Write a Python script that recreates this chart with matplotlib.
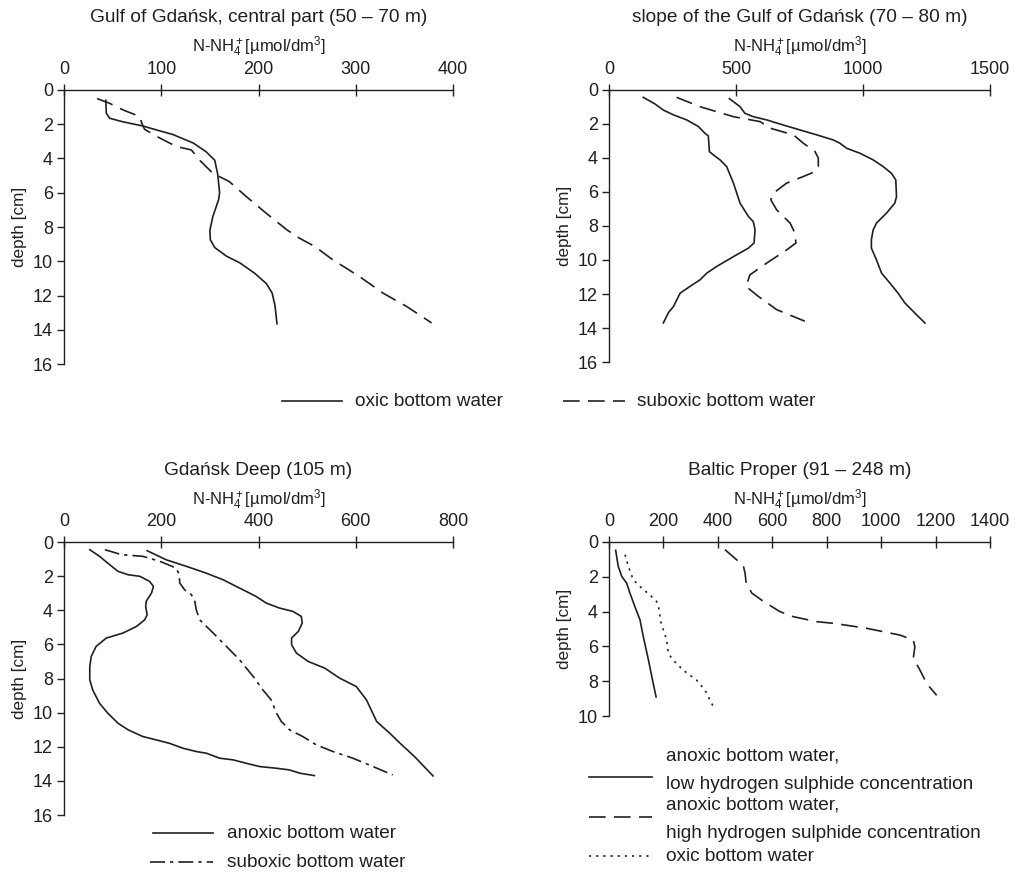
import matplotlib
matplotlib.use("Agg")
import matplotlib.pyplot as plt
from matplotlib.lines import Line2D

plt.rcParams['font.family'] = ['Liberation Sans', 'DejaVu Sans']
plt.rcParams['mathtext.fontset'] = 'custom'
plt.rcParams['mathtext.rm'] = 'Liberation Sans'
plt.rcParams['mathtext.it'] = 'Liberation Sans'
plt.rcParams['mathtext.default'] = 'regular'

INK = '#231f20'
W, H = 1015, 872

# ---- Gulf of Gdańsk, central part ----
gc_oxic_x = [43, 43.5, 47, 60, 81, 95, 112, 133, 146, 155, 158, 160, 159, 153, 150, 150.5, 155, 167, 181, 196, 208, 214, 217, 219]
gc_oxic_d = [0.6, 1.36, 1.65, 1.85, 2.1, 2.33, 2.6, 3.1, 3.6, 4.1, 4.9, 6.0, 6.4, 7.4, 8.2, 8.75, 9.2, 9.7, 10.1, 10.7, 11.3, 11.85, 12.6, 13.65]
gc_subox_x = [34, 47, 61, 78, 79.5, 81, 83, 95, 115.5, 131, 139.5, 153, 170, 187, 208, 229, 242, 258, 276, 304, 328, 352, 378]
gc_subox_d = [0.5, 0.78, 1.17, 1.55, 1.85, 2.08, 2.3, 2.7, 3.3, 3.5, 4.1, 4.86, 5.35, 6.2, 7.2, 8.16, 8.65, 9.14, 9.9, 10.9, 11.86, 12.63, 13.6]

# ---- slope of the Gulf of Gdańsk ----
sl_oxic1_x = [135, 181, 214, 255, 306, 352, 378, 391, 394, 395, 411, 437, 463, 490, 516, 549, 568, 575, 571, 549, 490, 424, 385, 359, 319, 280, 254, 234, 214]
sl_oxic1_d = [0.43, 0.82, 1.18, 1.47, 1.76, 2.15, 2.55, 2.7, 3.33, 3.62, 3.82, 4.11, 4.5, 5.48, 6.66, 7.44, 7.74, 8.23, 9.0, 9.3, 9.8, 10.38, 10.77, 11.16, 11.55, 11.95, 12.73, 13.1, 13.7]
sl_oxic2_x = [474, 516, 535, 568, 621, 686, 752, 818, 883, 909, 936, 988, 1040, 1079, 1112, 1129, 1132, 1125, 1092, 1053, 1040, 1033, 1033, 1053, 1073, 1106, 1138, 1165, 1204, 1244]
sl_oxic2_d = [0.51, 0.98, 1.37, 1.57, 1.76, 2.06, 2.35, 2.64, 2.94, 3.13, 3.43, 3.72, 4.11, 4.5, 4.9, 5.29, 6.27, 6.66, 7.25, 7.83, 8.23, 8.81, 9.3, 9.99, 10.77, 11.36, 11.95, 12.53, 13.12, 13.71]
sl_subox_x = [266, 358, 490, 595, 635, 726, 765, 811, 824, 824, 811, 765, 699, 647, 637, 660, 713, 732, 736, 700, 621, 555, 539, 588, 660, 771]
sl_subox_d = [0.43, 0.98, 1.57, 1.86, 2.25, 2.64, 3.13, 3.62, 4.0, 4.5, 4.8, 5.09, 5.48, 6.07, 6.46, 7.05, 7.83, 8.42, 9.0, 9.4, 10.18, 10.87, 11.55, 12.14, 12.92, 13.6]

# ---- Gdańsk Deep ----
gd_anox1_x = [53, 73, 94, 111, 132, 156, 176, 184, 180, 169, 168, 171, 166, 149, 121, 87, 66, 56, 53, 53, 59, 73, 90, 111, 132, 162, 190, 217, 245, 272, 293, 320, 348, 375, 402, 437, 464, 485, 515]
gd_anox1_d = [0.45, 0.84, 1.33, 1.72, 1.92, 2.01, 2.31, 2.6, 2.99, 3.48, 3.78, 4.26, 4.56, 4.95, 5.34, 5.63, 6.12, 6.71, 7.3, 8.08, 8.67, 9.45, 10.03, 10.62, 11.01, 11.4, 11.6, 11.8, 12.09, 12.28, 12.38, 12.67, 12.77, 12.97, 13.16, 13.26, 13.36, 13.55, 13.69]
gd_anox2_x = [171, 210, 252, 292, 327, 361, 395, 416, 443, 471, 488, 490, 482, 468, 468, 478, 502, 536, 567, 601, 622, 643, 670, 691, 721, 759]
gd_anox2_d = [0.51, 1.04, 1.43, 1.82, 2.21, 2.7, 3.19, 3.58, 3.87, 4.07, 4.36, 4.75, 5.24, 5.63, 6.02, 6.51, 7.0, 7.39, 7.98, 8.47, 9.25, 10.52, 11.21, 11.79, 12.58, 13.71]
gd_subox_x = [84, 118, 162, 197, 231, 237, 238, 248, 262, 269, 272, 279, 307, 334, 361, 389, 409, 426, 437, 447, 464, 491, 519, 553, 594, 628, 676]
gd_subox_d = [0.45, 0.74, 0.84, 1.13, 1.53, 1.92, 2.4, 2.8, 3.09, 3.48, 3.97, 4.56, 5.34, 6.12, 6.9, 7.88, 8.67, 9.25, 10.03, 10.52, 11.01, 11.4, 11.89, 12.28, 12.67, 13.07, 13.65]

# ---- Baltic Proper ----
bp_low_x = [24.5, 34, 47, 65, 77, 95, 114, 126, 145, 160, 173]
bp_low_d = [0.48, 1.4, 1.98, 2.37, 2.94, 3.71, 4.48, 5.44, 6.79, 7.94, 8.9]
bp_high_x = [426, 469, 494, 500, 504, 525, 568, 628, 677, 763, 824, 947, 1069, 1118, 1124, 1118, 1143, 1167, 1204]
bp_high_d = [0.44, 1.02, 1.4, 1.79, 2.37, 2.94, 3.42, 4.0, 4.29, 4.58, 4.67, 4.96, 5.35, 5.63, 6.02, 6.69, 7.37, 8.13, 8.81]
bp_oxic_x = [59, 71, 89, 120, 150, 175, 185, 188, 200, 212, 218, 236, 273, 322, 353, 365, 384]
bp_oxic_d = [0.73, 1.4, 2.17, 2.65, 3.04, 3.42, 3.9, 4.48, 5.06, 5.63, 6.4, 6.79, 7.37, 7.94, 8.52, 8.9, 9.48]

titles = ['Gulf of Gdańsk, central part (50 – 70 m)',
          'slope of the Gulf of Gdańsk (70 – 80 m)',
          'Gdańsk Deep (105 m)',
          'Baltic Proper (91 – 248 m)']
xlabel = 'N-NH$_4^+$[µmol/dm$^3$]'

SOLID = '-'
DASHED = (0, (10, 5))
DASHDOT = (0, (9, 3, 2, 3))
DOTTED = (0, (1.3, 3))

fig = plt.figure(figsize=(W / 100, H / 100), dpi=100)


def fx(px):
    return px / W


def fy(py):
    return 1 - py / H


def make_axes(left, right, top, bottom, xmax, xstep, dmax):
    ax = fig.add_axes([fx(left), fy(bottom), fx(right - left), (bottom - top) / H])
    ax.set_xlim(0, xmax)
    ax.set_ylim(dmax, 0)
    ax.set_xticks(range(0, xmax + 1, xstep))
    ax.set_yticks(range(0, dmax + 1, 2))
    ax.xaxis.tick_top()
    for s in ('right', 'bottom'):
        ax.spines[s].set_visible(False)
    for s in ('left', 'top'):
        ax.spines[s].set_color(INK)
        ax.spines[s].set_linewidth(1.0)
    ax.tick_params(axis='x', direction='inout', length=8, width=1.0, color=INK,
                   labelsize=13, labelcolor=INK, pad=5)
    ax.tick_params(axis='y', direction='out', length=5, width=1.0, color=INK,
                   labelsize=13, labelcolor=INK, pad=3)
    ax.patch.set_visible(False)
    ax.set_ylabel('depth [cm]', fontsize=12.3, color=INK, labelpad=4)
    return ax


def header(cx, title_y, label_y, title):
    fig.text(fx(cx), fy(title_y), title, ha='center', va='center', fontsize=13.8, color=INK)
    fig.text(fx(cx), fy(label_y), xlabel, ha='center', va='center', fontsize=12, color=INK)


def legend_entry(x0, x1, y, ls, text_x, text_y, text):
    fig.add_artist(Line2D([fx(x0), fx(x1)], [fy(y), fy(y)], color=INK, lw=1.2,
                          linestyle=ls, transform=fig.transFigure))
    fig.text(fx(text_x), fy(text_y), text, ha='left', va='center', fontsize=13.7,
             color=INK, linespacing=1.85)


lw = 1.2

# Panel 1
ax1 = make_axes(64, 453, 90, 364, 400, 100, 16)
ax1.plot(gc_oxic_x, gc_oxic_d, color=INK, lw=lw, linestyle=SOLID)
ax1.plot(gc_subox_x, gc_subox_d, color=INK, lw=lw, linestyle=DASHED)
header(258.5, 17, 47, titles[0])

# Panel 2
ax2 = make_axes(609, 990, 90, 362, 1500, 500, 16)
ax2.plot(sl_oxic1_x, sl_oxic1_d, color=INK, lw=lw, linestyle=SOLID)
ax2.plot(sl_oxic2_x, sl_oxic2_d, color=INK, lw=lw, linestyle=SOLID)
ax2.plot(sl_subox_x, sl_subox_d, color=INK, lw=lw, linestyle=DASHED)
header(799.5, 17, 47, titles[1])

# Panel 3
ax3 = make_axes(64, 453, 542, 815, 800, 200, 16)
ax3.plot(gd_anox1_x, gd_anox1_d, color=INK, lw=lw, linestyle=SOLID)
ax3.plot(gd_anox2_x, gd_anox2_d, color=INK, lw=lw, linestyle=SOLID)
ax3.plot(gd_subox_x, gd_subox_d, color=INK, lw=lw, linestyle=DASHDOT)
header(258.5, 470, 500, titles[2])

# Panel 4
ax4 = make_axes(609, 990, 542, 716, 1400, 200, 10)
ax4.plot(bp_low_x, bp_low_d, color=INK, lw=lw, linestyle=SOLID)
ax4.plot(bp_high_x, bp_high_d, color=INK, lw=lw, linestyle=DASHED)
ax4.plot(bp_oxic_x, bp_oxic_d, color=INK, lw=lw, linestyle=DOTTED)
header(799.5, 470, 500, titles[3])

# Legends
legend_entry(282, 342, 401, SOLID, 355, 401, 'oxic bottom water')
legend_entry(563, 625, 401, DASHED, 637, 401, 'suboxic bottom water')

legend_entry(153, 213, 833, SOLID, 227, 833, 'anoxic bottom water')
legend_entry(150, 213, 862, DASHDOT, 227, 862, 'suboxic bottom water')

legend_entry(589, 652, 777, SOLID, 666, 770, 'anoxic bottom water,\nlow hydrogen sulphide concentration')
legend_entry(589, 652, 817, DASHED, 666, 819, 'anoxic bottom water,\nhigh hydrogen sulphide concentration')
legend_entry(589, 652, 856, DOTTED, 666, 856, 'oxic bottom water')

fig.savefig('out.png', dpi=100, facecolor='white')
